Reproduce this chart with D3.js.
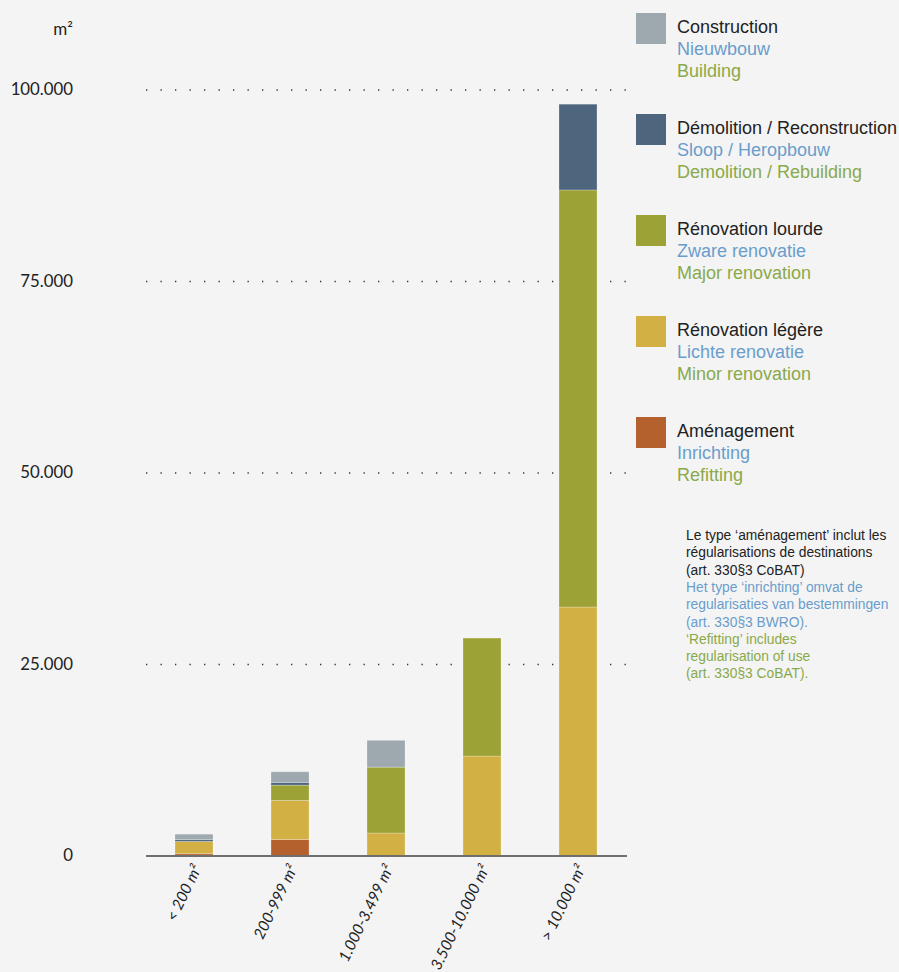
<!DOCTYPE html>
<html>
<head>
<meta charset="utf-8">
<script src="https://cdn.jsdelivr.net/npm/d3@7"></script>
<style>
  html, body { margin: 0; padding: 0; background: #f4f4f4; }
  svg { display: block; }
</style>
</head>
<body>
<svg id="chart" width="899" height="972"></svg>
<script>
// surface categories and stacked series (m²)
const categories = ["< 200 m²", "200-999 m²", "1.000-3.499 m²", "3.500-10.000 m²", "> 10.000 m²"];
const amenagement = [300, 2150, 0, 0, 0];
const renovationLegere = [1600, 5100, 3000, 13050, 32500];
const renovationLourde = [0, 2000, 8600, 15400, 54450];
const demolition = [250, 350, 0, 0, 11200];
const construction = [700, 1400, 3500, 0, 0];
const yTicks = [0, 25000, 50000, 75000, 100000];

const seriesKeys = ["amenagement", "legere", "lourde", "demolition", "construction"];
const seriesColors = {
    amenagement: "#b5612d",
    legere: "#d2b043",
    lourde: "#9ca236",
    demolition: "#4d667d",
    construction: "#9ea9af"
};

// legend texts, top to bottom
const legendKeys = ["construction", "demolition", "lourde", "legere", "amenagement"];
const legendFr = ["Construction", "Démolition / Reconstruction", "Rénovation lourde", "Rénovation légère", "Aménagement"];
const legendNl = ["Nieuwbouw", "Sloop / Heropbouw", "Zware renovatie", "Lichte renovatie", "Inrichting"];
const legendEn = ["Building", "Demolition / Rebuilding", "Major renovation", "Minor renovation", "Refitting"];

const noteFr = ["Le type ‘aménagement’ inclut les", "régularisations de destinations", "(art. 330§3 CoBAT)"];
const noteNl = ["Het type ‘inrichting’ omvat de", "regularisaties van bestemmingen", "(art. 330§3 BWRO)."];
const noteEn = ["‘Refitting’ includes", "regularisation of use", "(art. 330§3 CoBAT)."];

const black = "#222222", blue = "#6a9dcc", green = "#8aa94a";

const table = categories.map((c, i) => ({
    cat: c,
    amenagement: amenagement[i],
    legere: renovationLegere[i],
    lourde: renovationLourde[i],
    demolition: demolition[i],
    construction: construction[i]
}));

const svg = d3.select("#chart");

const x = d3.scaleBand()
    .domain(categories)
    .range([146, 626])
    .paddingInner(0.604)
    .paddingOuter(0.302);

const y = d3.scaleLinear()
    .domain([0, 100000])
    .range([856, 90]);

// dotted grid lines
svg.append("g")
    .selectAll("line")
    .data(yTicks.filter(d => d > 0))
    .join("line")
    .attr("x1", 146)
    .attr("x2", 630)
    .attr("y1", d => y(d))
    .attr("y2", d => y(d))
    .attr("stroke", "#333")
    .attr("stroke-width", 1.3)
    .attr("stroke-dasharray", "1.3,13.2");

// y tick labels
svg.append("g")
    .selectAll("text")
    .data(yTicks)
    .join("text")
    .attr("x", 73)
    .attr("y", d => y(d) + 5)
    .attr("text-anchor", "end")
    .style("font-family", "Lato, 'Open Sans', sans-serif")
    .style("font-size", "16.8px")
    .style("fill", black)
    .text(d => d === 0 ? "0" : d3.format(",")(d).replace(/,/g, "."));

svg.append("text")
    .attr("x", 73)
    .attr("y", 35)
    .attr("text-anchor", "end")
    .style("font-family", "Lato, 'Open Sans', sans-serif")
    .style("font-size", "17px")
    .style("fill", black)
    .text("m²");

// stacked bars
const stack = d3.stack().keys(seriesKeys);
const layers = stack(table);

svg.append("g")
    .selectAll("g")
    .data(layers)
    .join("g")
    .attr("fill", d => seriesColors[d.key])
    .selectAll("rect")
    .data(d => d.filter(s => s[1] - s[0] > 0))
    .join("rect")
    .attr("x", d => x(d.data.cat))
    .attr("width", x.bandwidth())
    .attr("y", d => y(d[1]))
    .attr("height", d => y(d[0]) - y(d[1]))
    .attr("stroke", "rgba(255,255,255,0.25)")
    .attr("stroke-width", 1);

// baseline
svg.append("line")
    .attr("x1", 146)
    .attr("x2", 627)
    .attr("y1", y(0))
    .attr("y2", y(0))
    .attr("stroke", "#6f6f6f")
    .attr("stroke-width", 2);

// rotated category labels
svg.append("g")
    .selectAll("text")
    .data(categories)
    .join("text")
    .attr("transform", d => `translate(${x(d) + x.bandwidth() / 2 + 8},${868}) rotate(-64)`)
    .attr("text-anchor", "end")
    .style("font-family", "Lato, 'Open Sans', sans-serif")
    .style("font-style", "italic")
    .style("font-size", "15.5px")
    .style("fill", black)
    .text(d => d);

// legend
const legend = svg.append("g")
    .selectAll("g")
    .data(legendKeys)
    .join("g")
    .attr("transform", (d, i) => `translate(636,${13 + i * 101})`);

legend.append("rect")
    .attr("width", 30)
    .attr("height", 31)
    .attr("fill", d => seriesColors[d]);

const legendFont = "'Liberation Sans', Arial, sans-serif";
[[legendFr, black], [legendNl, blue], [legendEn, green]].forEach(([labels, col], j) => {
    legend.append("text")
        .attr("x", 41)
        .attr("y", 20 + j * 22)
        .style("font-family", legendFont)
        .style("font-size", "18px")
        .style("fill", col)
        .text((d, i) => labels[i]);
});

// note
const noteLines = [];
noteFr.forEach(t => noteLines.push([t, black]));
noteNl.forEach(t => noteLines.push([t, blue]));
noteEn.forEach(t => noteLines.push([t, green]));

svg.append("g")
    .selectAll("text")
    .data(noteLines)
    .join("text")
    .attr("x", 686)
    .attr("y", (d, i) => 540 + i * 17.3)
    .style("font-family", legendFont)
    .style("font-size", "13.8px")
    .style("fill", d => d[1])
    .text(d => d[0]);
</script>
</body>
</html>
